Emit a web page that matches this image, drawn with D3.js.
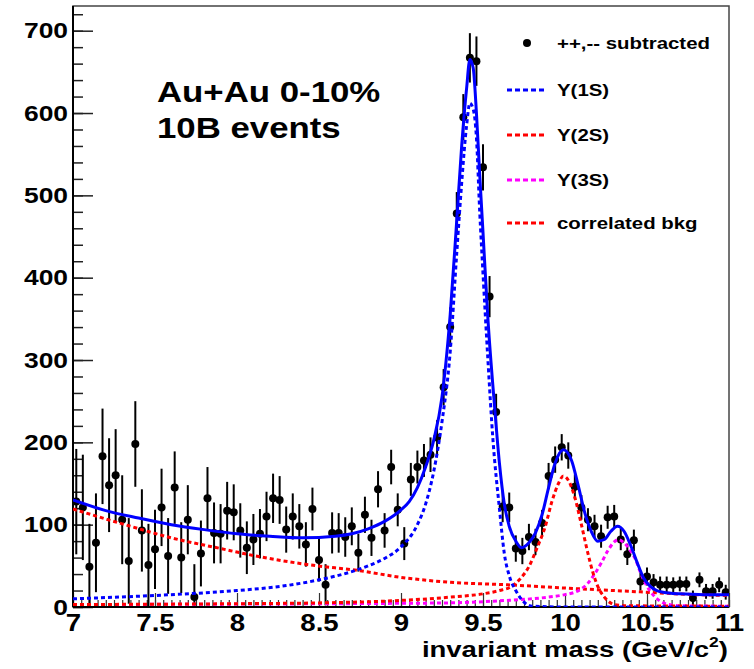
<!DOCTYPE html>
<html>
<head>
<meta charset="utf-8">
<script src="https://cdn.jsdelivr.net/npm/d3@7"></script>
<style>
  html, body { margin: 0; padding: 0; background: #fff; }
  svg text { font-family: "Liberation Sans", Arial, Helvetica, sans-serif; font-weight: bold; fill: #000; }
</style>
</head>
<body>
<script>
// ============================================
// Upsilon dimuon mass spectrum, Au+Au 0-10%
// ============================================

// bin centres (0.04 GeV bins from 7 to 11)
const massBins = [
    7.02, 7.06, 7.10, 7.14, 7.18, 7.22, 7.26, 7.30, 7.34, 7.38,
    7.42, 7.46, 7.50, 7.54, 7.58, 7.62, 7.66, 7.70, 7.74, 7.78,
    7.82, 7.86, 7.90, 7.94, 7.98, 8.02, 8.06, 8.10, 8.14, 8.18,
    8.22, 8.26, 8.30, 8.34, 8.38, 8.42, 8.46, 8.50, 8.54, 8.58,
    8.62, 8.66, 8.70, 8.74, 8.78, 8.82, 8.86, 8.90, 8.94, 8.98,
    9.02, 9.06, 9.10, 9.14, 9.18, 9.22, 9.26, 9.30, 9.34, 9.38,
    9.42, 9.46, 9.50, 9.54, 9.58, 9.62, 9.66, 9.70, 9.74, 9.78,
    9.82, 9.86, 9.90, 9.94, 9.98, 10.02, 10.06, 10.10, 10.14, 10.18,
    10.22, 10.26, 10.30, 10.34, 10.38, 10.42, 10.46, 10.50, 10.54, 10.58,
    10.62, 10.66, 10.70, 10.74, 10.78, 10.82, 10.86, 10.90, 10.94, 10.98
];

// ++,-- subtracted counts
const counts = [
    128, 121, 49, 78, 183, 148, 160, 106, 56, 198,
    93, 51, 70, 121, 62, 145, 60, 106, 12, 65,
    132, 90, 89, 117, 115, 93, 72, 82, 89, 110,
    132, 130, 94, 110, 98, 76, 119, 57, 27, 90,
    90, 85, 98, 66, 112, 84, 143, 93, 170, 118,
    77, 155, 170, 178, 185, 206, 267, 340, 478, 595,
    667, 663, 534, 377, 237, 122, 121, 71, 68, 85,
    79, 102, 159, 179, 194, 184, 146, 121, 106, 98,
    86, 109, 110, 82, 64, 81, 31, 37, 30, 27,
    27, 27, 28, 28, 11, 33, 19, 19, 27, 18
];

// statistical errors
const errors = [
    64, 64, 52, 60, 58, 57, 56, 54, 52, 52,
    50, 50, 48, 47, 46, 44, 43, 42, 40, 40,
    38, 37, 36, 35, 34, 33, 32, 31, 30, 30,
    30, 29, 28, 28, 27, 27, 26, 26, 25, 25,
    24, 24, 23, 23, 22, 22, 22, 21, 21, 20,
    20, 20, 20, 20, 21, 21, 22, 24, 26, 28,
    30, 30, 28, 25, 22, 19, 18, 16, 16, 16,
    16, 16, 16, 16, 16, 16, 15, 15, 14, 14,
    14, 14, 14, 13, 13, 13, 11, 11, 10, 10,
    10, 9, 9, 9, 9, 9, 9, 9, 9, 9
];

// total fit
const fitX = [7.0, 7.2, 7.4, 7.6, 7.8, 8.0, 8.2, 8.4, 8.6, 8.7, 8.8, 8.9, 9.0, 9.05, 9.1, 9.15, 9.2, 9.25, 9.3, 9.34, 9.37, 9.40, 9.42, 9.44, 9.46, 9.48, 9.50, 9.53, 9.57, 9.60, 9.63, 9.66, 9.70, 9.735, 9.78, 9.82, 9.86, 9.90, 9.94, 9.99, 10.04, 10.08, 10.12, 10.16, 10.20, 10.24, 10.28, 10.32, 10.36, 10.40, 10.44, 10.48, 10.52, 10.56, 10.60, 10.70, 10.85, 11.0];
const fitY = [130, 117, 108, 100, 94, 89, 86, 84, 86, 89, 95, 104, 118, 128, 145, 170, 203, 255, 355, 470, 560, 630, 665, 655, 600, 525, 455, 350, 245, 175, 125, 98, 80, 72, 78, 90, 112, 145, 175, 191, 178, 148, 115, 92, 80, 82, 92, 98, 92, 75, 54, 35, 25, 20, 18, 16, 15, 15];

// Y(1S) component
const y1sX = [7.0, 7.5, 8.0, 8.3, 8.5, 8.7, 8.8, 8.9, 9.0, 9.1, 9.15, 9.2, 9.25, 9.3, 9.34, 9.37, 9.40, 9.42, 9.44, 9.46, 9.48, 9.50, 9.53, 9.56, 9.60, 9.63, 9.66, 9.70, 9.75, 9.80, 10.0, 11.0];
const y1sY = [10, 14, 20, 26, 33, 43, 50, 59, 73, 100, 125, 165, 225, 310, 430, 515, 585, 612, 605, 570, 480, 405, 300, 205, 120, 65, 38, 20, 6, 1, 0, 0];

// Y(2S) component
const y2sX = [7.0, 8.0, 8.5, 9.0, 9.3, 9.5, 9.6, 9.675, 9.73, 9.78, 9.83, 9.88, 9.92, 9.96, 9.99, 10.02, 10.06, 10.10, 10.14, 10.17, 10.20, 10.24, 10.27, 10.30, 10.40, 11.0];
const y2sY = [3, 4, 5, 8, 12, 16, 20, 25, 35, 49, 72, 98, 128, 150, 159, 154, 133, 100, 65, 42, 25, 12, 6, 3, 1.5, 1];

// Y(3S) component
const y3sX = [7.0, 8.0, 9.0, 9.3, 9.6, 9.8, 9.9, 10.0, 10.06, 10.1, 10.14, 10.18, 10.22, 10.26, 10.30, 10.325, 10.36, 10.40, 10.43, 10.46, 10.49, 10.52, 10.55, 10.60, 10.65, 10.70, 11.0];
const y3sY = [3, 3.5, 4.5, 5, 7.5, 10, 12, 15, 18, 22, 29, 40, 53, 68, 79, 82, 78, 68, 58, 42, 29, 19, 12, 5, 2.5, 1.5, 1];

// correlated background
const bkgX = [7.0, 7.3, 7.6, 7.9, 8.14, 8.45, 8.75, 9.0, 9.3, 9.65, 10.0, 10.4, 10.8, 11.0];
const bkgY = [119, 101, 84, 71, 61, 51, 44, 36, 30, 27, 23, 19, 15, 14];

const xTicks = [7, 7.5, 8, 8.5, 9, 9.5, 10, 10.5, 11];
const yTicks = [0, 100, 200, 300, 400, 500, 600, 700];

const legendLabels = ['++,-- subtracted', 'Y(1S)', 'Y(2S)', 'Y(3S)', 'correlated bkg'];
const legendColors = ['#000', '#0000ff', '#ff0000', '#ff00ff', '#ff0000'];

// --------------------------------------------
const W = 754, H = 669;
const frame = { left: 73, right: 729, top: 6, bottom: 607 };
const SX = 1.2; // text in the picture is stretched horizontally

const svg = d3.select('body').append('svg')
    .attr('width', W)
    .attr('height', H);

const x = d3.scaleLinear().domain([7, 11]).range([frame.left, frame.right]);
const y = d3.scaleLinear().domain([0, 730]).range([frame.bottom, frame.top]);

svg.append('defs').append('clipPath').attr('id', 'plotClip')
    .append('rect')
    .attr('x', frame.left).attr('y', frame.top)
    .attr('width', frame.right - frame.left)
    .attr('height', frame.bottom - frame.top);

// frame
svg.append('rect')
    .attr('x', frame.left).attr('y', frame.top)
    .attr('width', frame.right - frame.left)
    .attr('height', frame.bottom - frame.top)
    .attr('fill', 'none')
    .attr('stroke', '#444')
    .attr('stroke-width', 1.5);

// y axis: minor then major ticks, pointing inward
svg.append('g')
    .attr('transform', `translate(${frame.left},0)`)
    .call(d3.axisLeft(y).tickValues(d3.range(0, 721, 20)).tickSize(-10).tickFormat(''))
    .call(g => g.select('.domain').remove())
    .call(g => g.selectAll('line').attr('stroke', '#222').attr('stroke-width', 1.5));

svg.append('g')
    .attr('transform', `translate(${frame.left},0)`)
    .call(d3.axisLeft(y).tickValues(yTicks).tickSize(-20).tickPadding(5))
    .call(g => g.select('.domain').remove())
    .call(g => g.selectAll('line').attr('stroke', '#222').attr('stroke-width', 1.5))
    .call(g => g.selectAll('text')
        .attr('font-size', 22)
        .attr('font-family', null)
        .attr('transform', `scale(${SX},1)`)
        .attr('x', -5 / SX));

// x axis
svg.append('g')
    .attr('transform', `translate(0,${frame.bottom})`)
    .call(d3.axisBottom(x).tickValues(d3.range(7, 11.001, 0.05)).tickSize(-7).tickFormat(''))
    .call(g => g.select('.domain').remove())
    .call(g => g.selectAll('line').attr('stroke', '#333').attr('stroke-width', 1.2));

svg.append('g')
    .attr('transform', `translate(0,${frame.bottom})`)
    .call(d3.axisBottom(x).tickValues(xTicks).tickSize(-14).tickPadding(8).tickFormat(d => String(d)))
    .call(g => g.select('.domain').remove())
    .call(g => g.selectAll('line').attr('stroke', '#333').attr('stroke-width', 1.2))
    .call(g => g.selectAll('text')
        .attr('font-size', 23)
        .attr('font-family', null)
        .attr('transform', `scale(${SX},1)`));

// left and bottom axis lines
svg.append('line')
    .attr('x1', frame.left).attr('x2', frame.left)
    .attr('y1', frame.top).attr('y2', frame.bottom)
    .attr('stroke', '#000').attr('stroke-width', 2);
svg.append('line')
    .attr('x1', frame.left).attr('x2', frame.right)
    .attr('y1', frame.bottom).attr('y2', frame.bottom)
    .attr('stroke', '#000').attr('stroke-width', 2);

// data points
const plot = svg.append('g').attr('clip-path', 'url(#plotClip)');
const points = massBins.map((m, i) => ({ m: m, v: counts[i], e: errors[i] }));

plot.append('g').selectAll('line')
    .data(points)
    .enter()
    .append('line')
    .attr('x1', d => x(d.m)).attr('x2', d => x(d.m))
    .attr('y1', d => y(d.v - d.e)).attr('y2', d => y(d.v + d.e))
    .attr('stroke', '#000')
    .attr('stroke-width', 2);

plot.append('g').selectAll('circle')
    .data(points)
    .enter()
    .append('circle')
    .attr('cx', d => x(d.m))
    .attr('cy', d => y(d.v))
    .attr('r', 4)
    .attr('fill', '#000');

// fit curves
const line = d3.line()
    .x(d => x(d[0]))
    .y(d => y(d[1]))
    .curve(d3.curveMonotoneX);

function drawCurve(xs, ys, color, dashed) {
    plot.append('path')
        .attr('d', line(xs.map((v, i) => [v, ys[i]])))
        .attr('fill', 'none')
        .attr('stroke', color)
        .attr('stroke-width', 3)
        .attr('stroke-dasharray', dashed ? '4,3' : null);
}

drawCurve(bkgX, bkgY, '#ff0000', true);
drawCurve(y3sX, y3sY, '#ff00ff', true);
drawCurve(y2sX, y2sY, '#ff0000', true);
drawCurve(y1sX, y1sY, '#0000ff', true);
drawCurve(fitX, fitY, '#0000ff', false);

// stretched text helper
function addText(str, px, py, size, anchor) {
    return svg.append('text')
        .attr('transform', `translate(${px},${py}) scale(${SX},1)`)
        .attr('text-anchor', anchor || 'start')
        .attr('font-size', size)
        .text(str);
}

// headline
addText('Au+Au 0-10%', 157, 102, 29);
addText('10B events', 157, 138, 29);

// legend
const legendY = [43, 90, 135, 180, 223];
legendLabels.forEach((label, i) => {
    if (i === 0) {
        svg.append('circle')
            .attr('cx', 527).attr('cy', legendY[i])
            .attr('r', 4)
            .attr('fill', legendColors[i]);
    } else {
        svg.append('line')
            .attr('x1', 507).attr('x2', 547)
            .attr('y1', legendY[i]).attr('y2', legendY[i])
            .attr('stroke', legendColors[i])
            .attr('stroke-width', 3)
            .attr('stroke-dasharray', '5,3');
    }
    addText(label, 557, legendY[i] + 6, 17);
});

// x axis title
const title = svg.append('text')
    .attr('transform', `translate(728,657) scale(1.25,1)`)
    .attr('text-anchor', 'end')
    .attr('font-size', 22);
title.append('tspan').text('invariant mass (GeV/c');
title.append('tspan').attr('dy', -10).attr('font-size', 14).text('2');
title.append('tspan').attr('dy', 10).text(')');
</script>
</body>
</html>
